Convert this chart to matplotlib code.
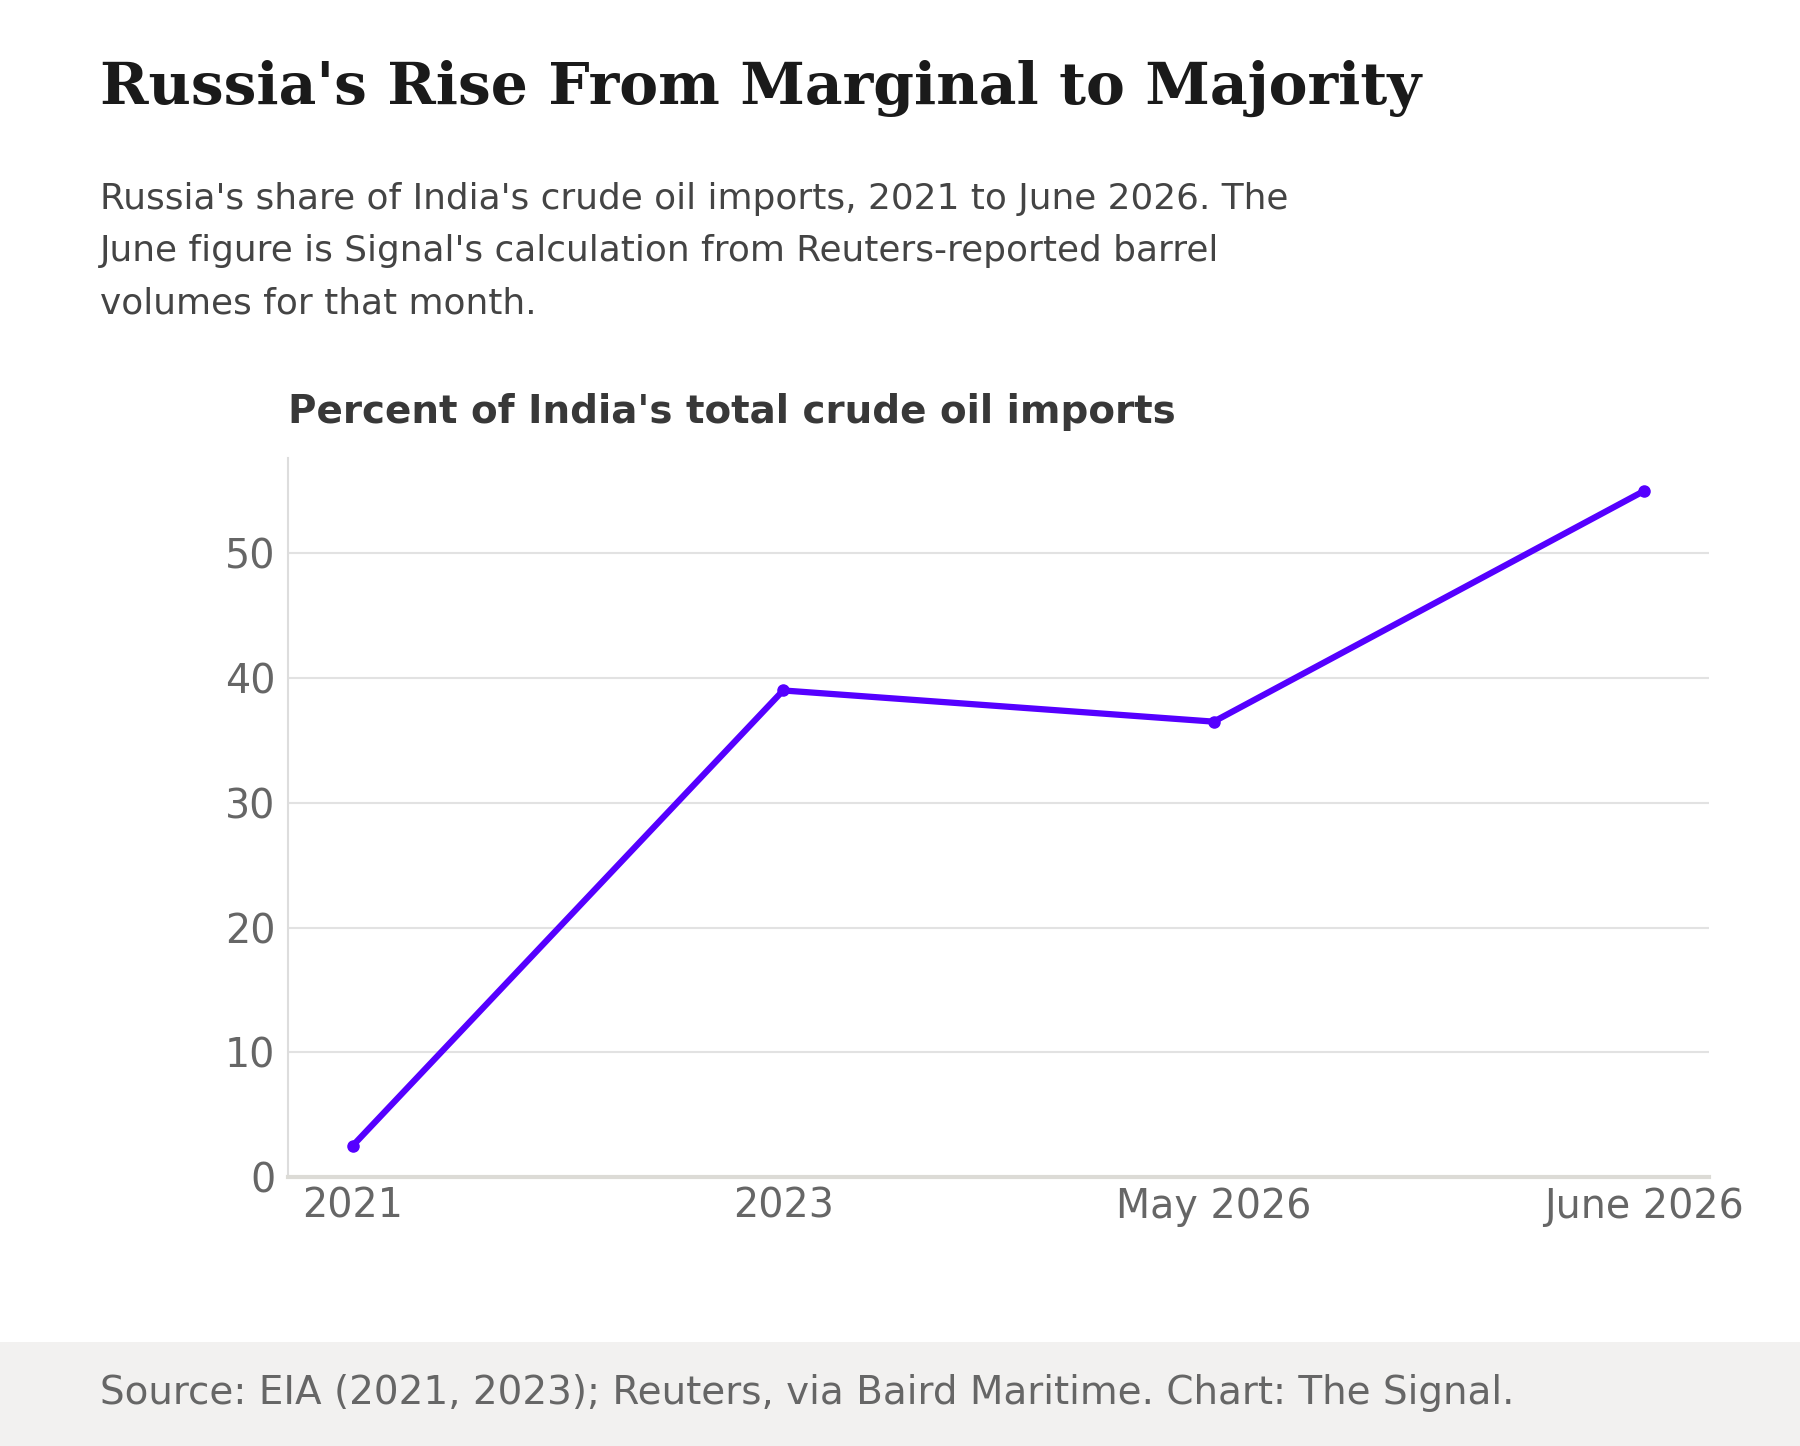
import matplotlib
matplotlib.use('Agg')
import matplotlib.pyplot as plt
from matplotlib.patches import Rectangle

plt.rcParams['font.family'] = ['DejaVu Sans']

# data
periods = ['2021', '2023', 'May 2026', 'June 2026']
russia_share = [2.5, 39.0, 36.5, 55.0]
y_ticks = [0, 10, 20, 30, 40, 50]

title = "Russia's Rise From Marginal to Majority"
subtitle = ["Russia's share of India's crude oil imports, 2021 to June 2026. The",
            "June figure is Signal's calculation from Reuters-reported barrel",
            "volumes for that month."]
axis_label = "Percent of India's total crude oil imports"
source = "Source: EIA (2021, 2023); Reuters, via Baird Maritime. Chart: The Signal."

fig = plt.figure(figsize=(18, 14.46), dpi=100)
fig.patch.set_facecolor('white')

# footer band
fig.patches.append(Rectangle((0, 0), 1, 104 / 1446, transform=fig.transFigure,
                             facecolor='#f2f1f0', edgecolor='none', zorder=0))

ax = fig.add_axes([0.16, 0.186, 0.7894, 0.497])
x = list(range(len(periods)))
ax.plot(x, russia_share, color='#5500ff', lw=4.5, marker='o', ms=8,
        solid_capstyle='round', zorder=3)

ax.set_xlim(-0.15, 3.15)
ax.set_ylim(0, 57.6)
ax.set_xticks(x)
ax.set_xticklabels(periods)
ax.set_yticks(y_ticks)
ax.tick_params(axis='both', length=0, labelsize=28.5, labelcolor='#666666')
ax.tick_params(axis='y', pad=9)
ax.tick_params(axis='x', pad=7)
ax.grid(axis='y', color='#e2e2e2', lw=1.5)
ax.set_axisbelow(True)
for s in ['top', 'right']:
    ax.spines[s].set_visible(False)
ax.spines['left'].set_color('#dddddd')
ax.spines['left'].set_linewidth(1.5)
ax.spines['bottom'].set_color('#dcdbd6')
ax.spines['bottom'].set_linewidth(3)

fig.text(0.0556, 1 - 104 / 1446, title, family='DejaVu Serif', fontweight='bold',
         fontsize=42, color='#1a1a1a', va='baseline')
for i, line in enumerate(subtitle):
    fig.text(0.0556, 1 - (209 + 52 * i) / 1446, line, fontsize=25.8,
             color='#444444', va='baseline')
fig.text(0.16, 1 - 423 / 1446, axis_label, fontsize=28, fontweight='bold',
         color='#383838', va='baseline')
fig.text(0.0556, 1 - 1404 / 1446, source, fontsize=28, color='#666666',
         va='baseline')

fig.savefig('out.png', dpi=100)
